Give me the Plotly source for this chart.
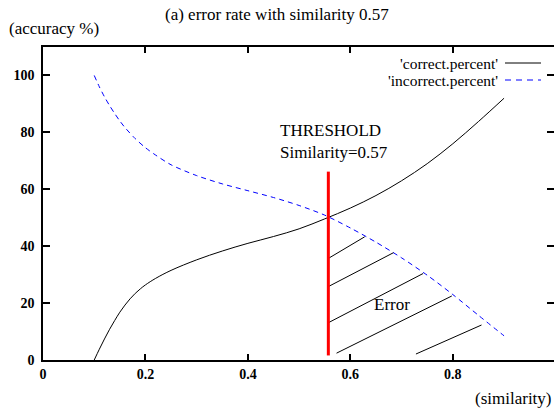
import plotly.graph_objects as go

# ---- data ----
sim_correct = [0.10, 0.11, 0.12, 0.13, 0.14, 0.15, 0.16, 0.17, 0.18, 0.19, 0.20, 0.22, 0.25, 0.30,
               0.35, 0.40, 0.45, 0.50, 0.55, 0.60, 0.65, 0.70, 0.75, 0.80, 0.85, 0.90]
correct_pct = [0.0, 3.8, 7.4, 10.8, 13.9, 16.8, 19.3, 21.5, 23.4, 25.0, 26.4, 28.7, 31.5, 35.2,
               38.3, 41.0, 43.4, 46.1, 49.6, 53.4, 57.8, 63.0, 69.0, 76.0, 83.8, 92.0]

sim_incorrect = [0.10, 0.11, 0.12, 0.13, 0.14, 0.15, 0.16, 0.18, 0.20, 0.22, 0.25, 0.30, 0.35,
                 0.40, 0.45, 0.50, 0.55, 0.60, 0.65, 0.70, 0.75, 0.80, 0.85, 0.90]
incorrect_pct = [100.0, 96.0, 92.5, 89.4, 86.6, 84.0, 81.7, 77.8, 74.6, 72.0, 68.6, 64.8, 61.9,
                 59.5, 57.1, 54.3, 50.9, 46.4, 41.4, 35.9, 29.8, 23.0, 15.7, 8.5]

threshold_x = 0.557
threshold_y = [1.6, 66.2]

hatch_x0 = [0.557, 0.557, 0.557, 0.573, 0.728]
hatch_y0 = [35.7, 25.8, 13.1, 2.4, 2.1]
hatch_x1 = [0.628, 0.684, 0.742, 0.798, 0.856]
hatch_y1 = [43.3, 37.7, 30.4, 22.5, 12.3]

x_ticks = [0, 0.2, 0.4, 0.6, 0.8]
x_labels = ["0", "0.2", "0.4", "0.6", "0.8"]
y_ticks = [0, 20, 40, 60, 80, 100]
y_labels = ["0", "20", "40", "60", "80", "100"]
legend_labels = ["'correct.percent'", "'incorrect.percent'"]

FONT = "Liberation Serif"
BLUE = "#0000ff"

fig = go.Figure()
fig.add_trace(go.Scatter(x=sim_correct, y=correct_pct, mode="lines", line=dict(color="black", width=1),
                         line_shape="spline", line_smoothing=1.0, name=legend_labels[0], showlegend=False))
fig.add_trace(go.Scatter(x=sim_incorrect, y=incorrect_pct, mode="lines",
                         line=dict(color=BLUE, width=1, dash="5px,4px"), line_shape="spline",
                         line_smoothing=0.8, name=legend_labels[1], showlegend=False))

hx, hy = [], []
for a, b, c, d in zip(hatch_x0, hatch_y0, hatch_x1, hatch_y1):
    hx += [a, c, None]
    hy += [b, d, None]
fig.add_trace(go.Scatter(x=hx, y=hy, mode="lines", line=dict(color="black", width=1), showlegend=False))

fig.add_trace(go.Scatter(x=[threshold_x, threshold_x], y=threshold_y, mode="lines",
                         line=dict(color="#ff0000", width=3), showlegend=False))

# dummy trace for mirror axes
fig.add_trace(go.Scatter(x=[None], y=[None], xaxis="x2", yaxis="y2", showlegend=False))

XR = [0, 0.9975]
YR = [0, 110]
fig.update_layout(
    width=554, height=411,
    margin=dict(l=43, r=0, t=47, b=51),
    paper_bgcolor="white", plot_bgcolor="white",
    font=dict(family=FONT, color="black", size=17),
    xaxis=dict(range=XR, tickvals=x_ticks, ticktext=["<b>%s</b>" % t for t in x_labels],
               ticks="inside", ticklen=6, tickwidth=1.5, tickcolor="black",
               showline=True, linewidth=2, linecolor="black", showgrid=False, zeroline=False,
               tickfont=dict(family=FONT, size=14, color="black"), ticklabelstandoff=0),
    yaxis=dict(range=YR, tickvals=y_ticks, ticktext=["<b>%s</b>" % t for t in y_labels],
               ticks="inside", ticklen=7, tickwidth=1.5, tickcolor="black",
               showline=True, linewidth=1.5, linecolor="black", showgrid=False, zeroline=False,
               tickfont=dict(family=FONT, size=14, color="black"), ticklabelstandoff=4),
    xaxis2=dict(range=XR, overlaying="x", side="top", anchor="y2", tickvals=x_ticks[1:],
                ticks="inside", ticklen=6, tickwidth=1.5, tickcolor="black", showticklabels=False,
                showline=True, linewidth=1.5, linecolor="black", showgrid=False, zeroline=False),
    yaxis2=dict(range=YR, overlaying="y", side="right", anchor="x2", tickvals=y_ticks[1:],
                ticks="inside", ticklen=7, tickwidth=1.5, tickcolor="black", showticklabels=False,
                showline=False, showgrid=False, zeroline=False),
)

ann = [
    dict(text="(a) error rate with similarity 0.57", xref="paper", yref="paper", x=(277 - 43) / 511,
         y=(360 - 14) / 313, xanchor="center", yanchor="middle", showarrow=False),
    dict(text="(accuracy %)", xref="paper", yref="paper", x=(7 - 43) / 511, y=(360 - 29) / 313,
         xanchor="left", yanchor="middle", showarrow=False),
    dict(text="(similarity)", xref="paper", yref="paper", x=(553 - 43) / 511, y=(360 - 398) / 313,
         xanchor="right", yanchor="middle", showarrow=False),
    dict(text="THRESHOLD<br>Similarity=0.57", x=0.458, y=76.8, xanchor="left", yanchor="middle",
         align="left", showarrow=False),
    dict(text="Error", x=0.643, y=19.5, xanchor="left", yanchor="middle", showarrow=False),
    dict(text=legend_labels[0], xref="paper", yref="paper", x=(500 - 43) / 511, y=(360 - 63) / 313,
         xanchor="right", yanchor="middle", showarrow=False, font=dict(size=15.5)),
    dict(text=legend_labels[1], xref="paper", yref="paper", x=(500 - 43) / 511, y=(360 - 80) / 313,
         xanchor="right", yanchor="middle", showarrow=False, font=dict(size=15.5)),
]
fig.update_layout(annotations=ann)

fig.add_shape(type="line", xref="paper", yref="paper", x0=(505 - 43) / 511, x1=(541 - 43) / 511,
              y0=(360 - 63) / 313, y1=(360 - 63) / 313, line=dict(color="black", width=1))
fig.add_shape(type="line", xref="paper", yref="paper", x0=(505 - 43) / 511, x1=(541 - 43) / 511,
              y0=(360 - 80) / 313, y1=(360 - 80) / 313, line=dict(color=BLUE, width=1, dash="6px,5px"))

fig.write_html("out.html")
